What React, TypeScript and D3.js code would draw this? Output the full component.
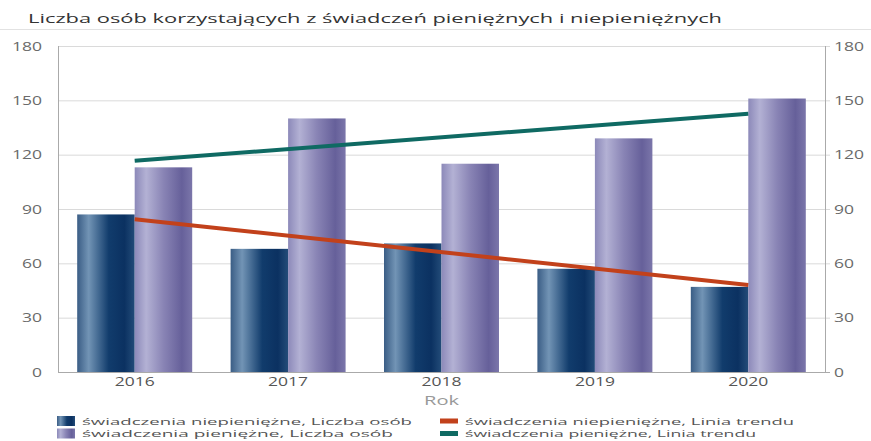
import React from 'react';
import { scaleBand, scaleLinear, line } from 'd3';

const years = ['2016', '2017', '2018', '2019', '2020'];
const niepieniezne = [87, 68, 71, 57, 47];
const pieniezne = [113, 140, 115, 129, 151];
// trend lines at first and last year
const trendYears = ['2016', '2020'];
const trendNiepieniezne = [84.4, 48.0];
const trendPieniezne = [116.6, 142.6];
const yTicks = [0, 30, 60, 90, 120, 150, 180];

const W = 871, H = 441;
const left = 58, right = 825, top = 46, bottom = 372;
const font = '"Open Sans", "DejaVu Sans", sans-serif';

export default function App() {
  const x = scaleBand<string>().domain(years).range([left, right]).padding(0);
  const inner = scaleBand<string>().domain(['a', 'b']).range([0, x.bandwidth()]).paddingInner(0).paddingOuter(0.334);
  const y = scaleLinear().domain([0, 180]).range([bottom, top]);

  const trendLine = line<[string, number]>()
    .x(d => (x(d[0]) as number) + x.bandwidth() / 2)
    .y(d => y(d[1]));

  const red = '#c2411b';
  const teal = '#0f6a63';

  const legend = [
    { label: 'świadczenia niepieniężne, Liczba osób', fill: 'url(#gDark)', tx: 57, ty: 416, h: 10, len: 330 },
    { label: 'świadczenia pieniężne, Liczba osób', fill: 'url(#gLight)', tx: 57, ty: 428.5, h: 10, len: 311 },
    { label: 'świadczenia niepieniężne, Linia trendu', fill: red, tx: 440, ty: 416, h: 5, len: 329 },
    { label: 'świadczenia pieniężne, Linia trendu', fill: teal, tx: 440, ty: 428.5, h: 5, len: 291 },
  ];

  return (
    <svg width={W} height={H} style={{ position: 'absolute', left: 0, top: 0, background: '#fff' }}>
      <defs>
        <linearGradient id="gDark" x1="0" x2="1" y1="0" y2="0">
          <stop offset="0" stopColor="#3a5d85" />
          <stop offset="0.2" stopColor="#7294b5" />
          <stop offset="0.55" stopColor="#113c6c" />
          <stop offset="0.82" stopColor="#0b3161" />
          <stop offset="1" stopColor="#234c79" />
        </linearGradient>
        <linearGradient id="gLight" x1="0" x2="1" y1="0" y2="0">
          <stop offset="0" stopColor="#8c89b9" />
          <stop offset="0.2" stopColor="#b3b1d4" />
          <stop offset="0.5" stopColor="#8984b5" />
          <stop offset="0.82" stopColor="#66609a" />
          <stop offset="1" stopColor="#7b76aa" />
        </linearGradient>
      </defs>

      <text x={28} y={23} fontFamily={font} fontSize={13.5} fill="#333" textLength={694} lengthAdjust="spacingAndGlyphs">
        Liczba osób korzystających z świadczeń pieniężnych i niepieniężnych
      </text>
      <line x1={0} x2={W} y1={29.5} y2={29.5} stroke="#e2e2e2" />

      {yTicks.map(t => (
        <g key={t}>
          {t > 0 && <line x1={left} x2={right + 5} y1={y(t) + 0.5} y2={y(t) + 0.5} stroke="#dadada" />}
          <text x={42} y={y(t) + 4.5} textAnchor="end" fontFamily={font} fontSize={12} fill="#6a6a6a"
            textLength={String(t).length * 10} lengthAdjust="spacingAndGlyphs">{t}</text>
          <text x={834} y={y(t) + 4.5} fontFamily={font} fontSize={12} fill="#6a6a6a"
            textLength={String(t).length * 10} lengthAdjust="spacingAndGlyphs">{t}</text>
        </g>
      ))}

      {years.map((yr, i) => (
        <g key={yr}>
          <rect x={(x(yr) as number) + (inner('a') as number)} y={y(niepieniezne[i])}
            width={inner.bandwidth()} height={bottom - y(niepieniezne[i])} fill="url(#gDark)" />
          <rect x={(x(yr) as number) + (inner('b') as number)} y={y(pieniezne[i])}
            width={inner.bandwidth()} height={bottom - y(pieniezne[i])} fill="url(#gLight)" />
          <text x={(x(yr) as number) + x.bandwidth() / 2} y={386} textAnchor="middle" fontFamily={font}
            fontSize={12.5} fill="#555" textLength={40} lengthAdjust="spacingAndGlyphs">{yr}</text>
        </g>
      ))}

      <line x1={left + 0.5} x2={left + 0.5} y1={top} y2={bottom} stroke="#aaa" />
      <line x1={right + 0.5} x2={right + 0.5} y1={top} y2={bottom} stroke="#aaa" />
      <line x1={left} x2={right + 5} y1={bottom + 0.5} y2={bottom + 0.5} stroke="#aaa" />

      <path d={trendLine(trendYears.map((t, i) => [t, trendNiepieniezne[i]]) as [string, number][]) || ''}
        fill="none" stroke={red} strokeWidth={4} />
      <path d={trendLine(trendYears.map((t, i) => [t, trendPieniezne[i]]) as [string, number][]) || ''}
        fill="none" stroke={teal} strokeWidth={4} />

      <text x={(left + right) / 2} y={405} textAnchor="middle" fontFamily={font} fontSize={12.5} fill="#999"
        textLength={35} lengthAdjust="spacingAndGlyphs">Rok</text>

      {legend.map(l => (
        <g key={l.label}>
          <rect x={l.tx} y={l.h === 10 ? l.ty : l.ty + 2.5} width={18} height={l.h} fill={l.fill} />
          <text x={l.tx + 25} y={l.ty + 8.5} fontFamily={font} fontSize={9} fill="#555"
            textLength={l.len} lengthAdjust="spacingAndGlyphs">{l.label}</text>
        </g>
      ))}
    </svg>
  );
}
